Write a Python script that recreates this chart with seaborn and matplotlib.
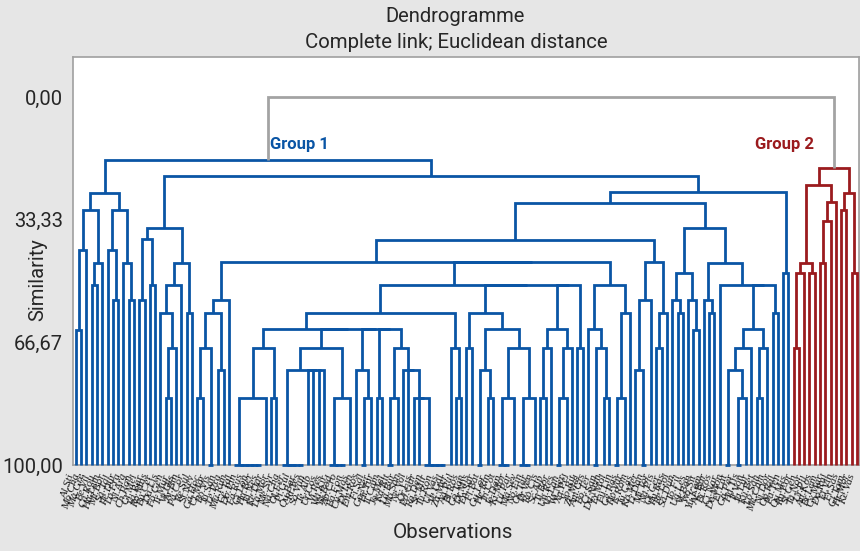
import numpy as np
import pandas as pd
import matplotlib
matplotlib.use('Agg')
import matplotlib.pyplot as plt
import seaborn as sns

# Dendrogram, left to right.
# A node is [similarity, child, child, ...] (children of one node are joined right to left);
# a bare int k stands for k leaves that are identical (joined at 100 % similarity).
group_a = [26.1,
           [30.7, [41.6, [63.3, 1, 1], 1], [45.1, [51.1, 1, 1], 1]],
           [30.7, [41.6, 1, [55.2, 1, 1]], [45.1, 1, [55.2, 1, 1]]]]
group_b = [35.6,
           [38.6, [55.2, 1, 1], [51.1, 1, 1]],
           [45.1, [51.1, [58.7, 1, [68.2, [81.8, 1, 1], 1]], 1], [58.7, 1, 1]]]
group_f1 = [55.2, [58.7, [68.2, [81.8, 1, 1], 2], [74.2, 1, 1]], 1]

c262 = [68.2, [81.8, 6, 1], [81.8, 1, 1]]
c319 = [68.2, [74.2, 5, 1, 1, 1, 1], [81.8, 4, 1]]
c363 = [74.2, 1, [81.8, 2, 1]]
c382 = [81.8, 1, 1]
c406 = [68.2, [81.8, 2, 1], [74.2, 1, 1, [81.8, 1, 1, 5]]]
c455 = [68.2, 1, [81.8, 1, 1]]
c488 = [58.7, [68.2, 1, 1], [63.0, [74.2, 2, [81.8, 1, 1]], [68.2, [81.8, 3, 1], [81.8, 3, 1]]]]
c557 = [63.0, [68.2, [81.8, 1, 1], 1], [68.2, [81.8, 2, 1], 1]]
c580 = [68.2, 1, 1]
group_g = [51.1, [58.7, [63.0, c262, c319, c363, c382, c406], c455], c488, c557, c580]

group_p = [51.1, [63.0, 1, [68.2, 2, [81.8, 1, 1]]], [58.7, [81.8, 2, 1], 1]]
group_k = [44.8, [55.2, [74.2, 1, 2], 1], [58.7, [68.2, 1, 1], 1]]
group_j1 = [47.8, [55.2, 1, [58.7, 1, 1]], [55.2, 1, [63.3, 1, 1]]]
group_j2 = [45.1, [55.2, 1, [58.7, 1, 1]],
            [51.1, 1, [63.0, [68.2, [74.2, 2, [81.8, 2, 1]], 1], [68.2, [81.8, 1, 1], 1]], [58.7, 1, 1]]]
group_e = [47.8, 1, 1]

group1 = [17.1, group_a,
          [21.5, group_b,
           [25.8, [28.8, [38.9, [44.8, group_f1, group_g, group_p], group_k],
                   [35.6, group_j1, group_j2]],
            group_e]]]
group2 = [19.3,
          [23.9, [45.1, [47.8, [68.2, 1, 1], 1], [47.8, 1, 1]], [28.5, [33.7, [45.1, 1, 1], 1], 1]],
          [26.1, [30.7, 1, 1], [47.8, 1, 1]]]
root_similarity = 0.0

obs_labels = """Al.Sti Mo.Cha Ma.Gre Be.Vil Ca.Rou Ha.Lem Mi.Bor Sa.Tal Pe.Dur Lo.Fra
Ni.Arg Ch.Pon Gr.Mel Va.Bar Ro.Mas Bu.Cer Da.Lis Fo.Gen Tr.Mur Ve.Ols
Ar.Bin Pa.Cor Re.Sul Si.Nev Ga.Hoc Cl.Mar Bo.Vis Ju.San Le.Pra Mu.Rim
Ce.Tal Do.Pin Fa.Rus Gi.Lon Hu.Ber Ja.Nes Ke.Dar La.Mor Me.Syr Na.Cha
Ol.Fer Pi.Gul Qu.Bar Ri.Tes So.Vun Te.Alb Ur.Cos Vi.Pes Wa.Kir Ya.Bod
Ab.Cro Ba.Fon Cu.Mas Di.Len Em.Ros Fi.Sal Go.Ner Hi.Tur Il.Cam Jo.Mel
Ka.Rit La.Bur Mo.San Ne.Vol Or.Lis Po.Gar Ra.Den Se.Mir Tu.Ron Ul.Vas
Ve.Cal Za.Mer Ag.Pul Bl.Ros Co.Tan Dr.Mis En.Sar Fl.Bat Gu.Lor He.Rin
In.Cot Je.Dan Ki.Mor Lu.Par Ma.Sev No.Fin Os.Tar Pr.Ven Ro.Cis Sc.Alp
Ti.Bor Un.Res Vo.Lan Wi.Ner Xa.Pel Yo.Rit Ze.Mal Am.Gis Bo.Ter Cr.San
Du.Nem Er.Mol Fu.Lin Ge.Pas Ho.Var Is.Rom Ju.Cas Ko.Mer Li.Dan Mi.Tor
Na.Pis Ot.Cer Pu.Ras Re.Gol Sa.Dun To.Fil Ug.Les Vr.Ban Wo.Sit Yu.Kam
Ac.Bur Bi.Ros Ci.Nar De.Mon Ef.Lat Ga.Per Ha.Tis Ir.Von Ja.Lur Ku.Bet
Lo.San Me.Cam Ni.Dor Op.Ral Pa.Ten Qu.Mis Ru.For St.Gen Ta.Nor Ur.Pil
An.Kos Br.Lem Cy.Mar Do.Rul El.Vin Fr.Sas Gl.Tam Hr.Mor Ke.Vas""".split()

palette = {'Group 1': '#0a55a5', 'Group 2': '#9b1b1e', 'root': '#a3a3a3'}

rows = []
next_leaf = [0]


def add_link(x_l, s_l, x_r, s_r, sim, group):
    link = rows[-1][0] + 1 if rows else 0
    for step, (x, s) in enumerate([(x_l, s_l), (x_l, sim), (x_r, sim), (x_r, s_r)]):
        rows.append((link, step, x, s, group))


def place(node, group):
    # returns the x position and similarity of a node, adding its links to rows
    if isinstance(node, int):
        if node == 1:
            x = next_leaf[0]
            next_leaf[0] += 1
            return float(x), 100.0
        node = [100.0] + [1] * node
    sim = node[0]
    placed = [place(kid, group) for kid in node[1:]]
    x_r, s_r = placed[-1]
    for x_l, s_l in reversed(placed[:-1]):
        add_link(x_l, s_l, x_r, s_r, sim, group)
        x_r, s_r = (x_l + x_r) / 2, sim
    return x_r, s_r


x1, s1 = place(group1, 'Group 1')
x2, s2 = place(group2, 'Group 2')
add_link(x1, s1, x2, s2, root_similarity, 'root')
n_obs = next_leaf[0]

links = pd.DataFrame(rows, columns=['link', 'step', 'x', 'similarity', 'group'])

sns.set_theme(style='white')
plt.rcParams['font.family'] = ['Roboto', 'DejaVu Sans']

fig = plt.figure(figsize=(8.6, 5.51), dpi=100, facecolor='#e6e6e6')
ax = fig.add_axes([0.0845, 0.156, 0.9143, 0.7405])
ax.set_facecolor('white')

sns.lineplot(data=links, x='x', y='similarity', units='link', estimator=None, sort=False,
             hue='group', palette=palette, linewidth=2.0, legend=False, ax=ax)
for line in ax.lines:
    line.set_clip_on(False)
    line.set_zorder(3)
    line.set_solid_joinstyle('miter')
    line.set_solid_capstyle('butt')

ax.set_xlim(-0.62, n_obs - 1 + 0.38)
ax.set_ylim(100, -10.9)
ax.set_yticks([0, 33.33, 66.67, 100])
ax.set_yticklabels(['0,00', '33,33', '66,67', '100,00'], fontsize=14.5)
ax.set_xticks(np.arange(n_obs))
ax.set_xticklabels(obs_labels[:n_obs], rotation=72, ha='right', va='top',
                   fontsize=8.2, fontstyle='italic',
                   color='#1a1a1a', family=['Liberation Serif', 'DejaVu Serif'])
ax.tick_params(axis='both', direction='out', length=4, width=1, color='#a0a0a0')
ax.tick_params(axis='x', pad=1.5)
ax.tick_params(axis='y', pad=3)
ax.set_xlabel('')
ax.set_ylabel('')
for sp in ax.spines.values():
    sp.set_color('#a0a0a0')
    sp.set_linewidth(1.2)

ax.text(x1 + 0.4, 13.0, 'Group 1', color=palette['Group 1'], fontsize=12,
        fontweight='bold', ha='left', va='center')
ax.text(x2 - 3.8, 13.0, 'Group 2', color=palette['Group 2'], fontsize=12,
        fontweight='bold', ha='right', va='center')

fig.text(455 / 860, 1 - 17 / 551, 'Dendrogramme', ha='center', va='center', fontsize=14.5)
fig.text(456 / 860, 1 - 42 / 551, 'Complete link; Euclidean distance',
         ha='center', va='center', fontsize=14.7)
fig.text(453 / 860, 1 - 532 / 551, 'Observations', ha='center', va='center', fontsize=14.8)
fig.text(38 / 860, 1 - 280 / 551, 'Similarity', ha='center', va='center',
         rotation=90, fontsize=14.5)

fig.savefig('out.png', dpi=100, facecolor=fig.get_facecolor())
